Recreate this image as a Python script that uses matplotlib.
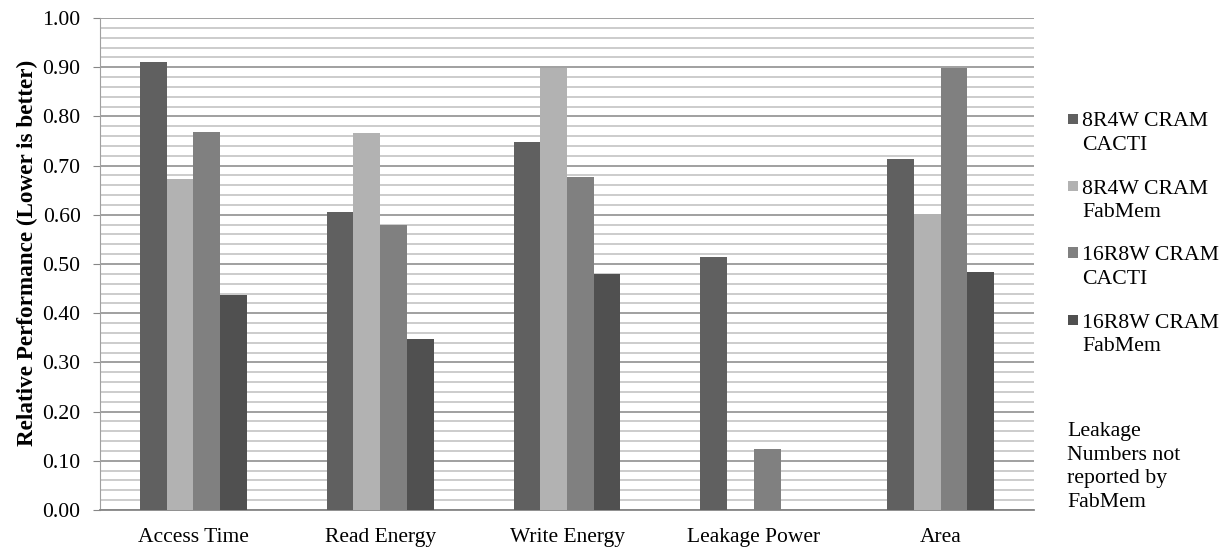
import numpy as np
import matplotlib
matplotlib.use("Agg")
import matplotlib.pyplot as plt
from matplotlib.patches import Rectangle
from matplotlib.ticker import MultipleLocator, FormatStrFormatter

plt.rcParams['font.family'] = ['Liberation Serif', 'DejaVu Serif']

categories = ["Access Time", "Read Energy", "Write Energy", "Leakage Power", "Area"]
series_names = ["8R4W CRAM\nCACTI", "8R4W CRAM\nFabMem", "16R8W CRAM\nCACTI", "16R8W CRAM\nFabMem"]
cacti_8r4w = [0.910, 0.605, 0.747, 0.514, 0.714]
fabmem_8r4w = [0.673, 0.766, 0.899, np.nan, 0.601]
cacti_16r8w = [0.768, 0.579, 0.677, 0.123, 0.898]
fabmem_16r8w = [0.437, 0.347, 0.480, np.nan, 0.484]
colors = ["#606060", "#b2b2b2", "#808080", "#505050"]
note = "Leakage\nNumbers not\nreported by\nFabMem"

W, H = 1222, 549
fig = plt.figure(figsize=(W/100, H/100), dpi=100)
ax = fig.add_axes([100/W, 1-510/H, (1034-100)/W, (510-18)/H])

data = [cacti_8r4w, fabmem_8r4w, cacti_16r8w, fabmem_16r8w]
x = np.arange(len(categories))
w = 0.143
for i, (vals, c, name) in enumerate(zip(data, colors, series_names)):
    ax.bar(x + (i - 1.5) * w, vals, width=w, color=c, label=name, zorder=3)

ax.set_xlim(-0.5, len(categories) - 0.5)
ax.set_ylim(0, 1.0)
ax.yaxis.set_major_locator(MultipleLocator(0.1))
ax.yaxis.set_minor_locator(MultipleLocator(0.02))
ax.yaxis.set_major_formatter(FormatStrFormatter('%.2f'))
ax.grid(which='major', axis='y', color='#868686', lw=1.1, zorder=1)
ax.grid(which='minor', axis='y', color='#bfbfbf', lw=1.1, zorder=0)
ax.set_xticks(x)
ax.set_xticklabels(categories, fontsize=15.5)
ax.tick_params(axis='x', length=0, pad=13)
ax.tick_params(axis='y', which='major', length=5, color='#868686', labelsize=15.7, pad=9)
ax.tick_params(axis='y', which='minor', length=0)
for s in ['top', 'right']:
    ax.spines[s].set_visible(False)
ax.spines['left'].set_color('#a0a0a0')
ax.spines['bottom'].set_color('#868686')
ax.spines['bottom'].set_linewidth(1.3)
ax.set_ylabel("Relative Performance (Lower is better)", fontsize=16.7, fontweight='bold')
ax.yaxis.set_label_coords((38-100)/934, (510-253)/492)

# legend drawn manually so the swatch sits beside the first label line
first_line_centers = [118.5, 185.5, 252.5, 319.5]
for c, name, yc in zip(colors, series_names, first_line_centers):
    fig.patches.append(Rectangle((1068/W, 1-(yc+5)/H), 10/W, 10/H,
                                 transform=fig.transFigure, facecolor=c, edgecolor='none'))
    fig.text(1082/W, 1-(yc-6)/H, name, fontsize=15.7, va='top', ha='left', linespacing=1.33)

fig.text(1067/W, 1-(432-10)/H, note, fontsize=15.7, va='top', ha='left', linespacing=1.33)

fig.savefig("out.png", dpi=100)
